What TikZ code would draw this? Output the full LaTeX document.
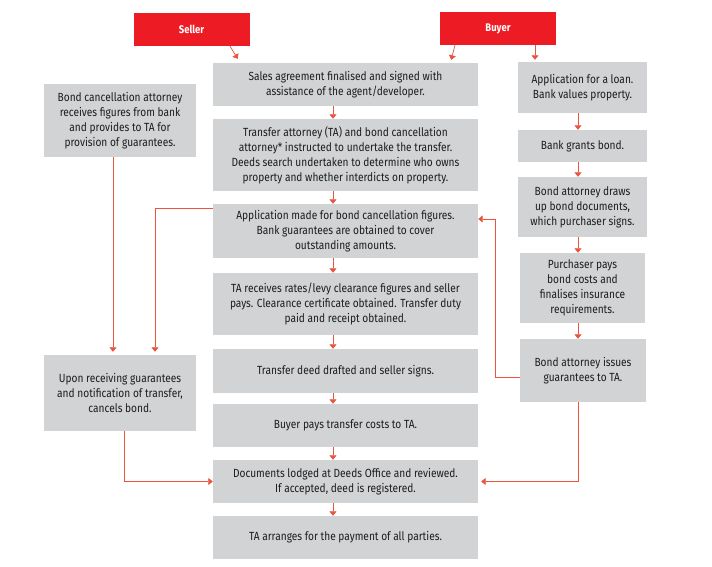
\documentclass[tikz,border=0pt]{standalone}
\usepackage{fontspec}
\setmainfont{Fira Sans}[FakeStretch=0.86]
\usetikzlibrary{arrows.meta,positioning,calc}
\definecolor{boxgray}{RGB}{209,211,212}
\definecolor{headred}{RGB}{237,28,36}
\definecolor{linkred}{RGB}{234,84,62}
\definecolor{txt}{RGB}{30,28,29}

\begin{document}
\begin{tikzpicture}[
  x=1pt, y=-1pt,
  font=\fontsize{11.8}{15}\selectfont,
  box/.style={fill=boxgray, text=txt, inner sep=0pt, align=center},
  main/.style={box, minimum width=265pt},
  side/.style={box, minimum width=152pt},
  bank/.style={box, minimum width=127pt},
  party/.style={fill=headred, text=white, font=\fontsize{11}{12}\selectfont\bfseries, minimum width=116pt, minimum height=33pt, inner sep=0pt},
  arr/.style={-{Triangle[width=7pt,length=4.5pt]}, draw=linkred, line width=0.75pt}
]
\useasboundingbox (0,0) rectangle (712,567);

\node[party] (seller) at (191.5,29.5) {Seller};
\node[party] (buyer) at (498,28.5) {Buyer};

\node[main, minimum height=43pt] (sales) at (345.5,84.5) {Sales agreement finalised and signed with\\assistance of the agent/developer.};
\node[main, minimum height=72pt] (transfer) at (345.5,155) {Transfer attorney (TA) and bond cancellation\\attorney* instructed to undertake the transfer.\\Deeds search undertaken to determine who owns\\property and whether interdicts on property.};
\node[main, minimum height=54pt] (appl) at (345.5,231) {Application made for bond cancellation figures.\\Bank guarantees are obtained to cover\\outstanding amounts.};
\node[main, minimum height=62pt] (rates) at (345.5,304) {TA receives rates/levy clearance figures and seller\\pays. Clearance certificate obtained. Transfer duty\\paid and receipt obtained.};
\node[main, minimum height=44pt] (deed) at (345.5,371) {Transfer deed drafted and seller signs.};
\node[main, minimum height=43pt] (costs) at (345.5,425.5) {Buyer pays transfer costs to TA.};
\node[main, minimum height=43pt] (lodged) at (345.5,481.5) {Documents lodged at Deeds Office and reviewed.\\If accepted, deed is registered.};
\node[main, minimum height=43pt] (payment) at (345.5,537.5) {TA arranges for the payment of all parties.};

\node[side, minimum height=73pt] (cancel) at (120,120.5) {Bond cancellation attorney\\receives figures from bank\\and provides to TA for\\provision of guarantees.};
\node[side, minimum height=76pt] (upon) at (120,393) {Upon receiving guarantees\\and notification of transfer,\\cancels bond.};

\node[bank, minimum width=129pt, minimum height=51pt] (loan) at (582.5,87.5) {Application for a loan.\\Bank values property.};
\node[bank, minimum width=129pt, minimum height=32pt] (grants) at (582.5,146) {Bank grants bond.};
\node[bank, minimum width=129pt, minimum height=60pt] (draws) at (582.5,207) {Bond attorney draws\\up bond documents,\\which purchaser signs.};
\node[bank, minimum width=125pt, minimum height=70pt] (purchaser) at (582.5,288) {Purchaser pays\\bond costs and\\finalises insurance\\requirements.};
\node[bank, minimum width=126pt, minimum height=63pt] (issues) at (583,370.5) {Bond attorney issues\\guarantees to TA.};

% parties
\draw[arr] ($(seller.south)+(38.5,0)$) -- ($(sales.north west)+(25,-4)$);
\draw[arr] ($(buyer.south)+(-43,0)$) -- ($(sales.north east)+(-27,-3)$);
\draw[arr] ($(buyer.south)+(37,0)$) -- ($(loan.north)+(-47.5,-2)$);

% main column
\draw[arr] ([xshift=-12.5pt]sales.south) -- ([xshift=-12.5pt]transfer.north);
\draw[arr] ([xshift=-12.5pt]transfer.south) -- ([xshift=-12.5pt]appl.north);
\draw[arr] ([xshift=-12.5pt]appl.south) -- ([xshift=-12.5pt]rates.north);
\draw[arr] ([xshift=-12.5pt]rates.south) -- ([xshift=-12.5pt]deed.north);
\draw[arr] ([xshift=-12.5pt]deed.south) -- ([xshift=-12.5pt]costs.north);
\draw[arr] ([xshift=-12.5pt]costs.south) -- ([xshift=-12.5pt]lodged.north);
\draw[arr] ([xshift=-12.5pt]lodged.south) -- ([xshift=-12.5pt]payment.north);

% bank column
\draw[arr] ([xshift=-4.5pt]loan.south) -- ([xshift=-4.5pt]grants.north);
\draw[arr] ([xshift=-4.5pt]grants.south) -- ([xshift=-4.5pt]draws.north);
\draw[arr] ([xshift=-4.5pt]draws.south) -- ([xshift=-4.5pt]purchaser.north);
\draw[arr] ([xshift=-4.5pt]purchaser.south) -- ([xshift=-5pt]issues.north);

% cancellation side
\draw[arr] ($(cancel.south)+(-7,0)$) -- ($(upon.north)+(-7,-3)$);
\draw[arr] ($(appl.north west)+(0,5)$) -| ($(upon.north)+(35,-3)$);
\draw[arr] ($(upon.south)+(4,0)$) |- (lodged.west);

% guarantees back to TA
\draw[arr] ($(issues.west)+(0,6.5)$) -- ++(-24,0) |- ($(appl.east)+(0,-12)$);
\draw[arr] ($(issues.south)+(-5,0)$) |- ($(lodged.east)+(3,0)$);
\end{tikzpicture}
\end{document}
